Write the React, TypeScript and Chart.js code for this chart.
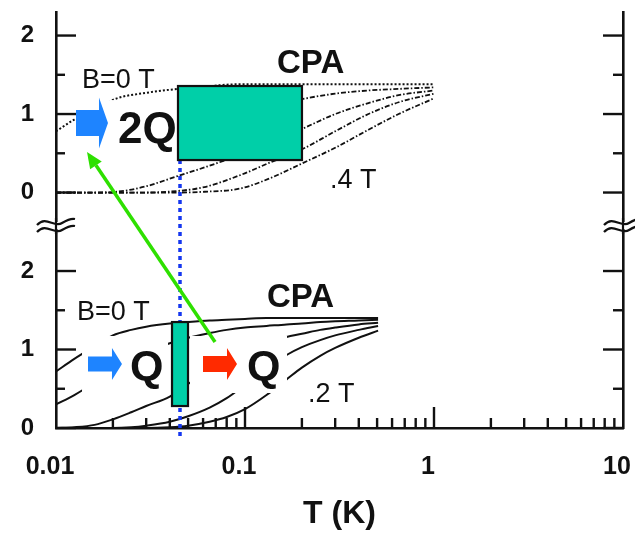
import React, { useEffect, useRef } from 'react';
import { Chart, registerables } from 'chart.js';

Chart.register(...registerables);

// ---------- axis / tick data ----------
const xTickValues = [0.01, 0.1, 1, 10];
const xTickLabels = ['0.01', '0.1', '1', '10'];
const yTickValues = [0, 1, 2, 3, 4, 5];
const yTickLabels = ['0', '1', '2', '0', '1', '2'];
const yMinorTicks = [0.5, 1.5, 3.5, 4.5];
const upperOffset = 3; // upper panel is stacked 3 units above the lower one

// ---------- upper panel (dotted / dash-dot curves) ----------
const upperT = [0.01, 0.0125, 0.016, 0.021, 0.03, 0.044, 0.061, 0.094, 0.135, 0.2, 0.3, 0.45, 0.65, 1.0];
const upperB0 = [0.78, 0.93, 1.06, 1.2, 1.27, 1.32, 1.35, 1.38, 1.38, 1.38, 1.38, 1.38, 1.38, 1.38];
const upperB1 = [null, null, 0.6, 0.66, 0.74, 0.83, 0.92, 1.02, 1.1, 1.19, 1.26, 1.3, 1.32, 1.34];
const upperB2 = [0, 0, 0, 0.01, 0.08, 0.21, 0.32, 0.48, 0.64, 0.81, 1.0, 1.14, 1.24, 1.3];
const upperB3 = [0, 0, 0, 0, 0, 0.02, 0.07, 0.22, 0.38, 0.55, 0.78, 1.0, 1.15, 1.26];
const upperB4 = [0, 0, 0, 0, 0, 0, 0.01, 0.05, 0.18, 0.37, 0.57, 0.8, 1.0, 1.2];

// ---------- lower panel (solid curves) ----------
const lowerT = [0.01, 0.0125, 0.016, 0.02, 0.025, 0.03, 0.04, 0.05, 0.065, 0.08, 0.1, 0.13, 0.166, 0.2, 0.25, 0.3, 0.4, 0.506];
const lowerB0 = [0.72, 0.88, 1.04, 1.18, 1.25, 1.29, 1.33, 1.35, 1.37, 1.38, 1.39, 1.4, 1.4, 1.4, 1.4, 1.4, 1.4, 1.4];
const lowerB1 = [0.3, 0.42, 0.58, 0.74, 0.88, 0.97, 1.08, 1.15, 1.21, 1.25, 1.28, 1.3, 1.32, 1.33, 1.35, 1.36, 1.37, 1.38];
const lowerB2 = [0, 0.01, 0.04, 0.11, 0.2, 0.28, 0.4, 0.56, 0.75, 0.9, 1.0, 1.1, 1.16, 1.2, 1.25, 1.28, 1.32, 1.34];
const lowerB3 = [0, 0, 0, 0, 0.01, 0.03, 0.08, 0.15, 0.26, 0.38, 0.55, 0.76, 0.93, 1.03, 1.12, 1.18, 1.25, 1.3];
const lowerB4 = [0, 0, 0, 0, 0, 0, 0.01, 0.03, 0.08, 0.14, 0.24, 0.42, 0.62, 0.77, 0.92, 1.02, 1.15, 1.24];

const FONT = "'Liberation Sans', Arial, Helvetica, sans-serif";
const INK = '#111';

function pts(T: number[], vals: (number | null)[], offset: number) {
  const out: { x: number; y: number }[] = [];
  T.forEach((t, i) => {
    const v = vals[i];
    if (v !== null && v !== undefined) out.push({ x: t, y: v + offset });
  });
  return out;
}

// ---------- annotation layout (data coordinates) ----------
const overlay = {
  upperBox: { t0: 0.01276, t1: 0.0442, v0: 3.516, v1: 4.178 },
  lowerBoxL: { t0: 0.01373, t1: 0.03914, v0: 0.446, v1: 1.172 },
  lowerBoxR: { t0: 0.05117, t1: 0.1668, v0: 0.446, v1: 1.172 },
  upperRect: { t0: 0.0442, t1: 0.2002, v0: 3.414, v1: 4.357 },
  lowerRect: { t0: 0.0411, t1: 0.04994, v0: 0.28, v1: 1.35 },
  blueLine: { t: 0.0453, v0: 3.414, v1: -0.115 },
  greenArrow: { t0: 0.06941, v0: 1.096, t1: 0.01459, v1: 3.516 },
  breakV: 2.573,
};

const blockArrows = [
  { t0: 0.01276, t1: 0.01884, v: 3.885, shaft: 13, head: 25.5, headL: 9, color: '#1E84FF' },
  { t0: 0.01477, t1: 0.02234, v: 0.815, shaft: 7.5, head: 16, headL: 10, color: '#1E84FF' },
  { t0: 0.05995, t1: 0.09071, v: 0.815, shaft: 8, head: 16, headL: 10, color: '#FF2A00' },
];

const labels = [
  { text: 'B=0 T', t: 0.01373, v: 4.331, size: 27, bold: false },
  { text: 'B=0 T', t: 0.01292, v: 1.376, size: 27, bold: false },
  { text: 'CPA', t: 0.1477, v: 4.523, size: 33, bold: true },
  { text: 'CPA', t: 0.1307, v: 1.541, size: 33, bold: true },
  { text: '.4 T', t: 0.2817, v: 3.058, size: 27, bold: false },
  { text: '.2 T', t: 0.2154, v: 0.331, size: 27, bold: false },
  { text: '2Q', t: 0.02129, v: 3.631, size: 44, bold: true },
  { text: 'Q', t: 0.02462, v: 0.611, size: 43, bold: true },
  { text: 'Q', t: 0.1025, v: 0.611, size: 43, bold: true },
];

const decorPlugin = {
  id: 'decor',
  beforeDatasetsDraw(chart: any) {
    const { ctx, chartArea, scales } = chart;
    const { left, right, bottom } = chartArea;
    const x = scales.x;
    const y = scales.y;
    ctx.save();
    ctx.strokeStyle = INK;
    ctx.lineWidth = 2.4;
    const seg = (a: number, b: number, c: number, d: number) => {
      ctx.beginPath();
      ctx.moveTo(a, b);
      ctx.lineTo(c, d);
      ctx.stroke();
    };
    yTickValues.forEach((v) => {
      const py = y.getPixelForValue(v);
      seg(left, py, left + 20, py);
      seg(right, py, right - 20, py);
    });
    yMinorTicks.forEach((v) => {
      const py = y.getPixelForValue(v);
      seg(left, py, left + 9, py);
      seg(right, py, right - 10, py);
    });
    [0.01, 0.1, 1].forEach((d) => {
      for (let k = 2; k <= 9; k++) {
        const px = x.getPixelForValue(k * d);
        seg(px, bottom, px, bottom - 10);
      }
    });
    [0.1, 1].forEach((d) => {
      const px = x.getPixelForValue(d);
      seg(px, bottom, px, bottom - 21);
    });
    ctx.restore();
  },
  afterDatasetsDraw(chart: any) {
    const { ctx, chartArea, scales } = chart;
    const X = (t: number) => scales.x.getPixelForValue(t);
    const Y = (v: number) => scales.y.getPixelForValue(v);
    ctx.save();

    // white label boxes
    ctx.fillStyle = '#fff';
    [overlay.upperBox, overlay.lowerBoxL, overlay.lowerBoxR].forEach((b) => {
      ctx.fillRect(X(b.t0), Y(b.v1), X(b.t1) - X(b.t0), Y(b.v0) - Y(b.v1));
    });

    // blue dotted vertical line
    ctx.strokeStyle = '#1537F0';
    ctx.lineWidth = 3.5;
    ctx.setLineDash([4, 4]);
    ctx.beginPath();
    ctx.moveTo(X(overlay.blueLine.t), Y(overlay.blueLine.v0));
    ctx.lineTo(X(overlay.blueLine.t), Y(overlay.blueLine.v1));
    ctx.stroke();
    ctx.setLineDash([]);

    // teal rectangles
    [overlay.upperRect, overlay.lowerRect].forEach((r) => {
      const x0 = X(r.t0), x1 = X(r.t1), y0 = Y(r.v1), y1 = Y(r.v0);
      ctx.fillStyle = '#00CFA8';
      ctx.fillRect(x0, y0, x1 - x0, y1 - y0);
      ctx.strokeStyle = INK;
      ctx.lineWidth = 2.2;
      ctx.strokeRect(x0, y0, x1 - x0, y1 - y0);
    });

    // block arrows
    blockArrows.forEach((a) => {
      const x0 = X(a.t0), x1 = X(a.t1), cy = Y(a.v);
      ctx.fillStyle = a.color;
      ctx.beginPath();
      ctx.moveTo(x0, cy - a.shaft);
      ctx.lineTo(x1 - a.headL, cy - a.shaft);
      ctx.lineTo(x1 - a.headL, cy - a.head);
      ctx.lineTo(x1, cy);
      ctx.lineTo(x1 - a.headL, cy + a.head);
      ctx.lineTo(x1 - a.headL, cy + a.shaft);
      ctx.lineTo(x0, cy + a.shaft);
      ctx.closePath();
      ctx.fill();
    });

    // green arrow
    const g = overlay.greenArrow;
    const gx0 = X(g.t0), gy0 = Y(g.v0), gx1 = X(g.t1), gy1 = Y(g.v1);
    const ang = Math.atan2(gy1 - gy0, gx1 - gx0);
    const hl = 16, hw = 7;
    ctx.strokeStyle = '#2EE000';
    ctx.fillStyle = '#2EE000';
    ctx.lineWidth = 3.5;
    ctx.beginPath();
    ctx.moveTo(gx0, gy0);
    ctx.lineTo(gx1 - Math.cos(ang) * hl, gy1 - Math.sin(ang) * hl);
    ctx.stroke();
    ctx.beginPath();
    ctx.moveTo(gx1, gy1);
    ctx.lineTo(gx1 - Math.cos(ang) * hl - Math.sin(ang) * hw, gy1 - Math.sin(ang) * hl + Math.cos(ang) * hw);
    ctx.lineTo(gx1 - Math.cos(ang) * hl + Math.sin(ang) * hw, gy1 - Math.sin(ang) * hl - Math.cos(ang) * hw);
    ctx.closePath();
    ctx.fill();

    // text labels
    ctx.fillStyle = INK;
    ctx.textAlign = 'left';
    ctx.textBaseline = 'alphabetic';
    labels.forEach((l) => {
      ctx.font = `${l.bold ? 'bold ' : ''}${l.size}px ${FONT}`;
      ctx.fillText(l.text, X(l.t), Y(l.v));
    });

    // axis break marks
    const by = Y(overlay.breakV);
    [chartArea.left, chartArea.right].forEach((cx) => {
      ctx.fillStyle = '#fff';
      ctx.fillRect(cx - 18, by - 4, 36, 7);
      ctx.strokeStyle = INK;
      ctx.lineWidth = 2.2;
      [-4, 3].forEach((dy) => {
        ctx.beginPath();
        ctx.moveTo(cx - 19, by + dy + 3);
        ctx.bezierCurveTo(cx - 10, by + dy - 7, cx - 2, by + dy + 6, cx + 6, by + dy + 1);
        ctx.bezierCurveTo(cx + 11, by + dy - 2, cx + 15, by + dy - 4, cx + 19, by + dy - 3);
        ctx.stroke();
      });
      ctx.beginPath();
      ctx.moveTo(cx, by - 8);
      ctx.lineTo(cx, by + 8);
      ctx.stroke();
    });
    ctx.restore();
  },
};

export default function App() {
  const ref = useRef<HTMLCanvasElement | null>(null);
  useEffect(() => {
    if (!ref.current) return;
    const upperDash = [5, 2, 1.5, 2];
    const chart = new Chart(ref.current, {
      type: 'line',
      data: {
        datasets: [
          { data: pts(upperT, upperB0, upperOffset), borderDash: [2, 2], borderWidth: 2 },
          { data: pts(upperT, upperB1, upperOffset), borderDash: upperDash, borderWidth: 1.8 },
          { data: pts(upperT, upperB2, upperOffset), borderDash: upperDash, borderWidth: 1.8 },
          { data: pts(upperT, upperB3, upperOffset), borderDash: upperDash, borderWidth: 1.8 },
          { data: pts(upperT, upperB4, upperOffset), borderDash: upperDash, borderWidth: 1.8 },
          { data: pts(lowerT, lowerB0, 0), borderWidth: 2 },
          { data: pts(lowerT, lowerB1, 0), borderWidth: 2 },
          { data: pts(lowerT, lowerB2, 0), borderWidth: 2 },
          { data: pts(lowerT, lowerB3, 0), borderWidth: 2 },
          { data: pts(lowerT, lowerB4, 0), borderWidth: 2 },
        ].map((d) => ({ ...d, borderColor: INK, pointRadius: 0, fill: false, cubicInterpolationMode: 'monotone' as const })),
      },
      options: {
        animation: false,
        responsive: false,
        events: [],
        layout: { padding: { top: 12, left: 0, right: 0, bottom: 0 } },
        plugins: { legend: { display: false }, tooltip: { enabled: false } },
        scales: {
          x: {
            type: 'logarithmic',
            position: 'bottom',
            min: 0.01,
            max: 10,
            grid: { display: false, drawTicks: false },
            border: { display: true, color: INK, width: 2.6 },
            afterBuildTicks: (s: any) => {
              s.ticks = xTickValues.map((v) => ({ value: v }));
            },
            ticks: {
              autoSkip: false,
              maxRotation: 0,
              padding: 24,
              labelOffset: -6,
              color: INK,
              font: { family: FONT, size: 25, weight: 'bold' },
              callback: (_v: any, i: number) => xTickLabels[i],
            },
            title: {
              display: true,
              text: 'T (K)',
              color: INK,
              font: { family: FONT, size: 32, weight: 'bold' },
              padding: { top: 0, bottom: 8 },
            },
            afterFit: (s: any) => {
              s.height = 113;
              s.paddingLeft = 0;
              s.paddingRight = 0;
            },
          },
          y: {
            position: 'left',
            min: 0,
            max: 5.3,
            grid: { display: false, drawTicks: false },
            border: { display: true, color: INK, width: 2.6 },
            afterBuildTicks: (s: any) => {
              s.ticks = yTickValues.map((v) => ({ value: v }));
            },
            ticks: {
              padding: 22,
              color: INK,
              font: { family: FONT, size: 24, weight: 'bold' },
              callback: (_v: any, i: number) => yTickLabels[i],
            },
            afterFit: (s: any) => {
              s.width = 56;
              s.paddingTop = 0;
              s.paddingBottom = 0;
            },
          },
          y2: {
            position: 'right',
            min: 0,
            max: 5.3,
            grid: { display: false, drawTicks: false },
            border: { display: true, color: INK, width: 2.6 },
            ticks: { display: false },
            afterFit: (s: any) => {
              s.width = 12;
              s.paddingTop = 0;
              s.paddingBottom = 0;
            },
          },
        },
      } as any,
      plugins: [decorPlugin],
    });
    return () => chart.destroy();
  }, []);
  return (
    <div style={{ position: 'fixed', left: 0, top: 0, width: 635, height: 541, background: '#fff' }}>
      <canvas ref={ref} width={635} height={541} style={{ display: 'block' }} />
    </div>
  );
}
